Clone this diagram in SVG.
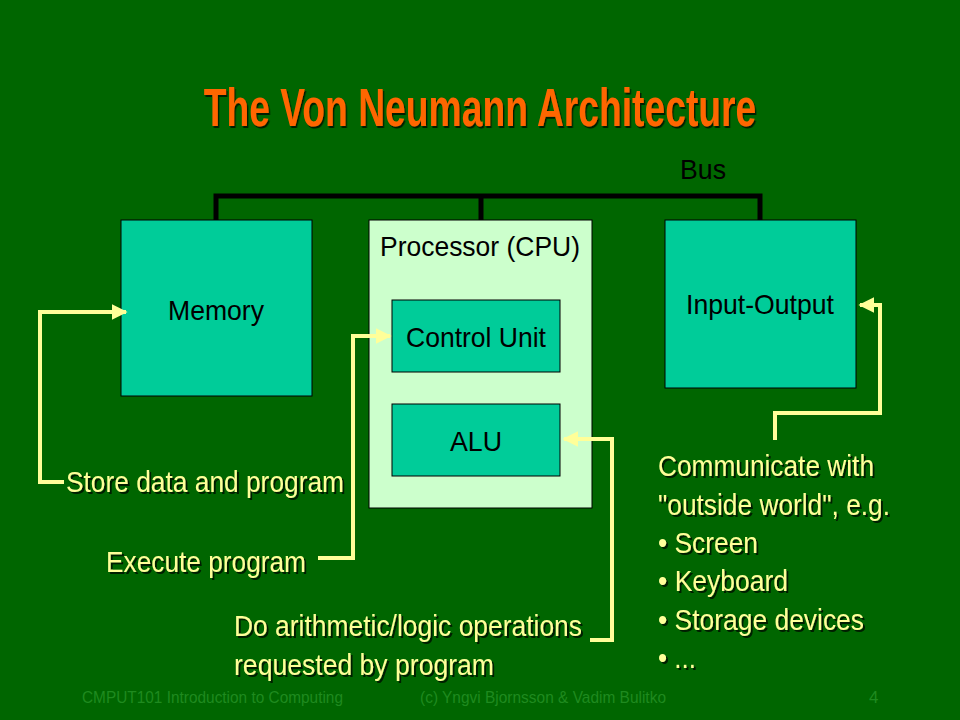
<svg xmlns="http://www.w3.org/2000/svg" width="960" height="720" viewBox="0 0 960 720">
<defs>
<marker id="ah" viewBox="0 0 10 10" refX="9" refY="5" markerWidth="4" markerHeight="4" orient="auto" markerUnits="strokeWidth"><path d="M0,0 L10,5 L0,10 z" fill="#FFFF99"/></marker>
<filter id="sh" x="-10%" y="-50%" width="120%" height="200%"><feDropShadow dx="2" dy="2" stdDeviation="0.6" flood-color="#000" flood-opacity="0.7"/></filter>
</defs>
<style>
.box{fill:#00CC99;stroke:#000;stroke-width:1}
.cpu{fill:#CCFFCC;stroke:#000;stroke-width:1}
.lbl{font-family:"Liberation Sans",Arial,sans-serif;font-size:28px;fill:#000;text-anchor:middle}
.note{font-family:"Liberation Sans",Arial,sans-serif;font-size:29px;fill:#FFFF99;filter:url(#sh)}
.conn{fill:none;stroke:#FFFF99;stroke-width:4}
.bus{fill:none;stroke:#000;stroke-width:5}
.foot{font-family:"Liberation Sans",Arial,sans-serif;font-size:17px;fill:#1F8A1F}
</style>
<rect width="960" height="720" fill="#006600"/>
<g transform="translate(480,126) scale(0.69,1)">
<text x="0" y="0" text-anchor="middle" font-family="Liberation Sans,Arial,sans-serif" font-weight="bold" font-size="54" fill="#FF6600" filter="url(#sh)">The Von Neumann Architecture</text>
</g>
<g id="bus">
<path class="bus" d="M216,220 V196 H760 V220 M481,196 V220"/>
<text class="lbl" x="703" y="179" textLength="46" lengthAdjust="spacingAndGlyphs">Bus</text>
</g>
<g id="memory">
<rect class="box" x="121" y="220" width="191" height="176"/>
<text class="lbl" x="216" y="320" textLength="96" lengthAdjust="spacingAndGlyphs">Memory</text>
</g>
<g id="cpu">
<rect class="cpu" x="369" y="220" width="223" height="288"/>
<text class="lbl" x="480" y="256" textLength="200" lengthAdjust="spacingAndGlyphs">Processor (CPU)</text>
</g>
<g id="control-unit">
<rect class="box" x="392" y="300" width="168" height="72"/>
<text class="lbl" x="476" y="347" textLength="140" lengthAdjust="spacingAndGlyphs">Control Unit</text>
</g>
<g id="alu">
<rect class="box" x="392" y="404" width="168" height="72"/>
<text class="lbl" x="476" y="451" textLength="52" lengthAdjust="spacingAndGlyphs">ALU</text>
</g>
<g id="io">
<rect class="box" x="665" y="220" width="191" height="168"/>
<text class="lbl" x="760" y="314" textLength="148" lengthAdjust="spacingAndGlyphs">Input-Output</text>
</g>
<g id="connectors">
<path class="conn" d="M64,482 H40 V312 H126" marker-end="url(#ah)"/>
<path class="conn" d="M318,558 H353 V336 H390" marker-end="url(#ah)"/>
<path class="conn" d="M590,640 H612 V439 H564" marker-end="url(#ah)"/>
<path class="conn" d="M775,440 V413 H880 V305 H860" marker-end="url(#ah)"/>
</g>
<g id="notes">
<text class="note" x="66" y="492" textLength="278" lengthAdjust="spacingAndGlyphs">Store data and program</text>
<text class="note" x="106" y="572" textLength="200" lengthAdjust="spacingAndGlyphs">Execute program</text>
<text class="note" x="234" y="636" textLength="348" lengthAdjust="spacingAndGlyphs">Do arithmetic/logic operations</text>
<text class="note" x="234" y="675" textLength="260" lengthAdjust="spacingAndGlyphs">requested by program</text>
<text class="note" x="658" y="476" textLength="216" lengthAdjust="spacingAndGlyphs">Communicate with</text>
<text class="note" x="658" y="515" textLength="232" lengthAdjust="spacingAndGlyphs">"outside world", e.g.</text>
<text class="note" x="658" y="553" textLength="100" lengthAdjust="spacingAndGlyphs">• Screen</text>
<text class="note" x="658" y="591" textLength="130" lengthAdjust="spacingAndGlyphs">• Keyboard</text>
<text class="note" x="658" y="630" textLength="206" lengthAdjust="spacingAndGlyphs">• Storage devices</text>
<text class="note" x="658" y="668" textLength="38" lengthAdjust="spacingAndGlyphs">• ...</text>
</g>
<g id="footer">
<text class="foot" x="82" y="703" textLength="261" lengthAdjust="spacingAndGlyphs">CMPUT101 Introduction to Computing</text>
<text class="foot" x="420" y="703" textLength="246" lengthAdjust="spacingAndGlyphs">(c) Yngvi Bjornsson &amp; Vadim Bulitko</text>
<text class="foot" x="869" y="703">4</text>
</g>
</svg>
